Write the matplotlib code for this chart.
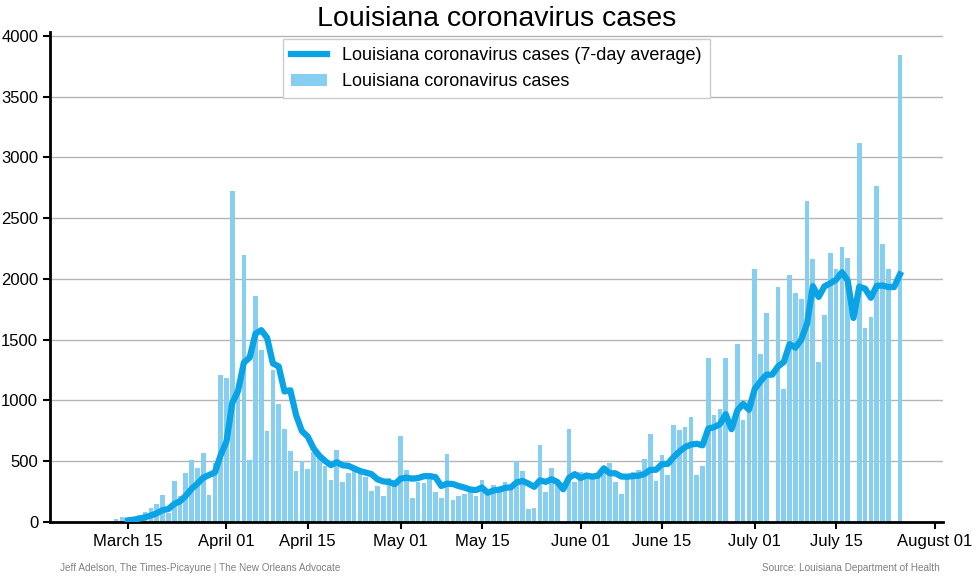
import pandas as pd
import matplotlib.pyplot as plt
import matplotlib.dates as mdates

plt.rcParams['font.family'] = ['Liberation Sans', 'DejaVu Sans']

# daily new cases by report date, starting March 9
start_date = '2020-03-09'
march = [1, 0, 5, 7, 23, 41, 14, 45, 60, 84, 112, 145, 226, 74, 335, 216, 407,
         510, 441, 569, 225, 485, 1212]
april = [1187, 2726, 1147, 2199, 514, 1857, 1417, 746, 1253, 970,
         761, 581, 421, 502, 433, 575, 540, 460, 342, 590,
         326, 400, 425, 394, 367, 252, 293, 210, 361, 306]
may = [705, 425, 197, 326, 317, 370, 243, 197, 557, 177,
       210, 227, 260, 210, 342, 260, 307, 260, 326, 293,
       499, 417, 111, 119, 631, 243, 441, 342, 0, 768, 330]
june = [411, 384, 375, 403, 420, 485, 326, 227, 370, 411,
        430, 515, 722, 334, 548, 383, 796, 755, 779, 862,
        383, 458, 1346, 878, 933, 1346, 0, 1464, 837, 1002]
july = [2082, 1381, 1717, 0, 1937, 1093, 2033, 1882, 1832, 2637,
        2165, 1318, 1703, 2212, 2082, 2266, 2170, 0, 3117, 1594,
        1684, 2767, 2286, 2082, 0, 3840]

x_ticks = ['2020-03-15', '2020-04-01', '2020-04-15', '2020-05-01', '2020-05-15',
           '2020-06-01', '2020-06-15', '2020-07-01', '2020-07-15', '2020-08-01']
y_ticks = [0, 500, 1000, 1500, 2000, 2500, 3000, 3500, 4000]

cases = march + april + may + june + july
data = pd.DataFrame({'Date': pd.date_range(start_date, periods=len(cases), freq='D'),
                     'Cases': cases})
data['Avg7'] = data['Cases'].rolling(7).mean()

bar_color = '#86cff0'
line_color = '#0aa3e6'

fig = plt.figure(figsize=(9.77, 5.8), dpi=100)
ax = fig.add_axes([0.0512, 0.1, 0.9138, 0.845])

ax.bar(data['Date'], data['Cases'], width=0.8, color=bar_color,
       label='Louisiana coronavirus cases', zorder=2)
ax.plot(data['Date'], data['Avg7'], color=line_color, lw=4.5,
        label='Louisiana coronavirus cases (7-day average)', zorder=3)

ax.set_ylim(bottom=0)
ax.set_yticks(y_ticks)
ax.set_xticks(pd.to_datetime(x_ticks))
ax.xaxis.set_major_formatter(mdates.DateFormatter('%B %d'))

ax.grid(axis='y', color='#b4b4b4', lw=1, zorder=0)
ax.set_axisbelow(True)
for side in ['top', 'right']:
    ax.spines[side].set_visible(False)
for side in ['left', 'bottom']:
    ax.spines[side].set_linewidth(2)
    ax.spines[side].set_color('black')
ax.tick_params(axis='both', labelsize=12, length=5, width=1.5, colors='black')

ax.set_title('Louisiana coronavirus cases', fontsize=20.5, pad=3)
leg = ax.legend(loc='upper center', fontsize=13, framealpha=1, edgecolor='#cccccc',
                fancybox=False, borderaxespad=0.4, borderpad=0.45)

fig.text(0.061, 0.015, 'Jeff Adelson, The Times-Picayune | The New Orleans Advocate',
         fontsize=7.2, color='#808080')
fig.text(0.962, 0.015, 'Source: Louisiana Department of Health',
         fontsize=7.2, color='#808080', ha='right')

fig.savefig('out.png', dpi=100)
